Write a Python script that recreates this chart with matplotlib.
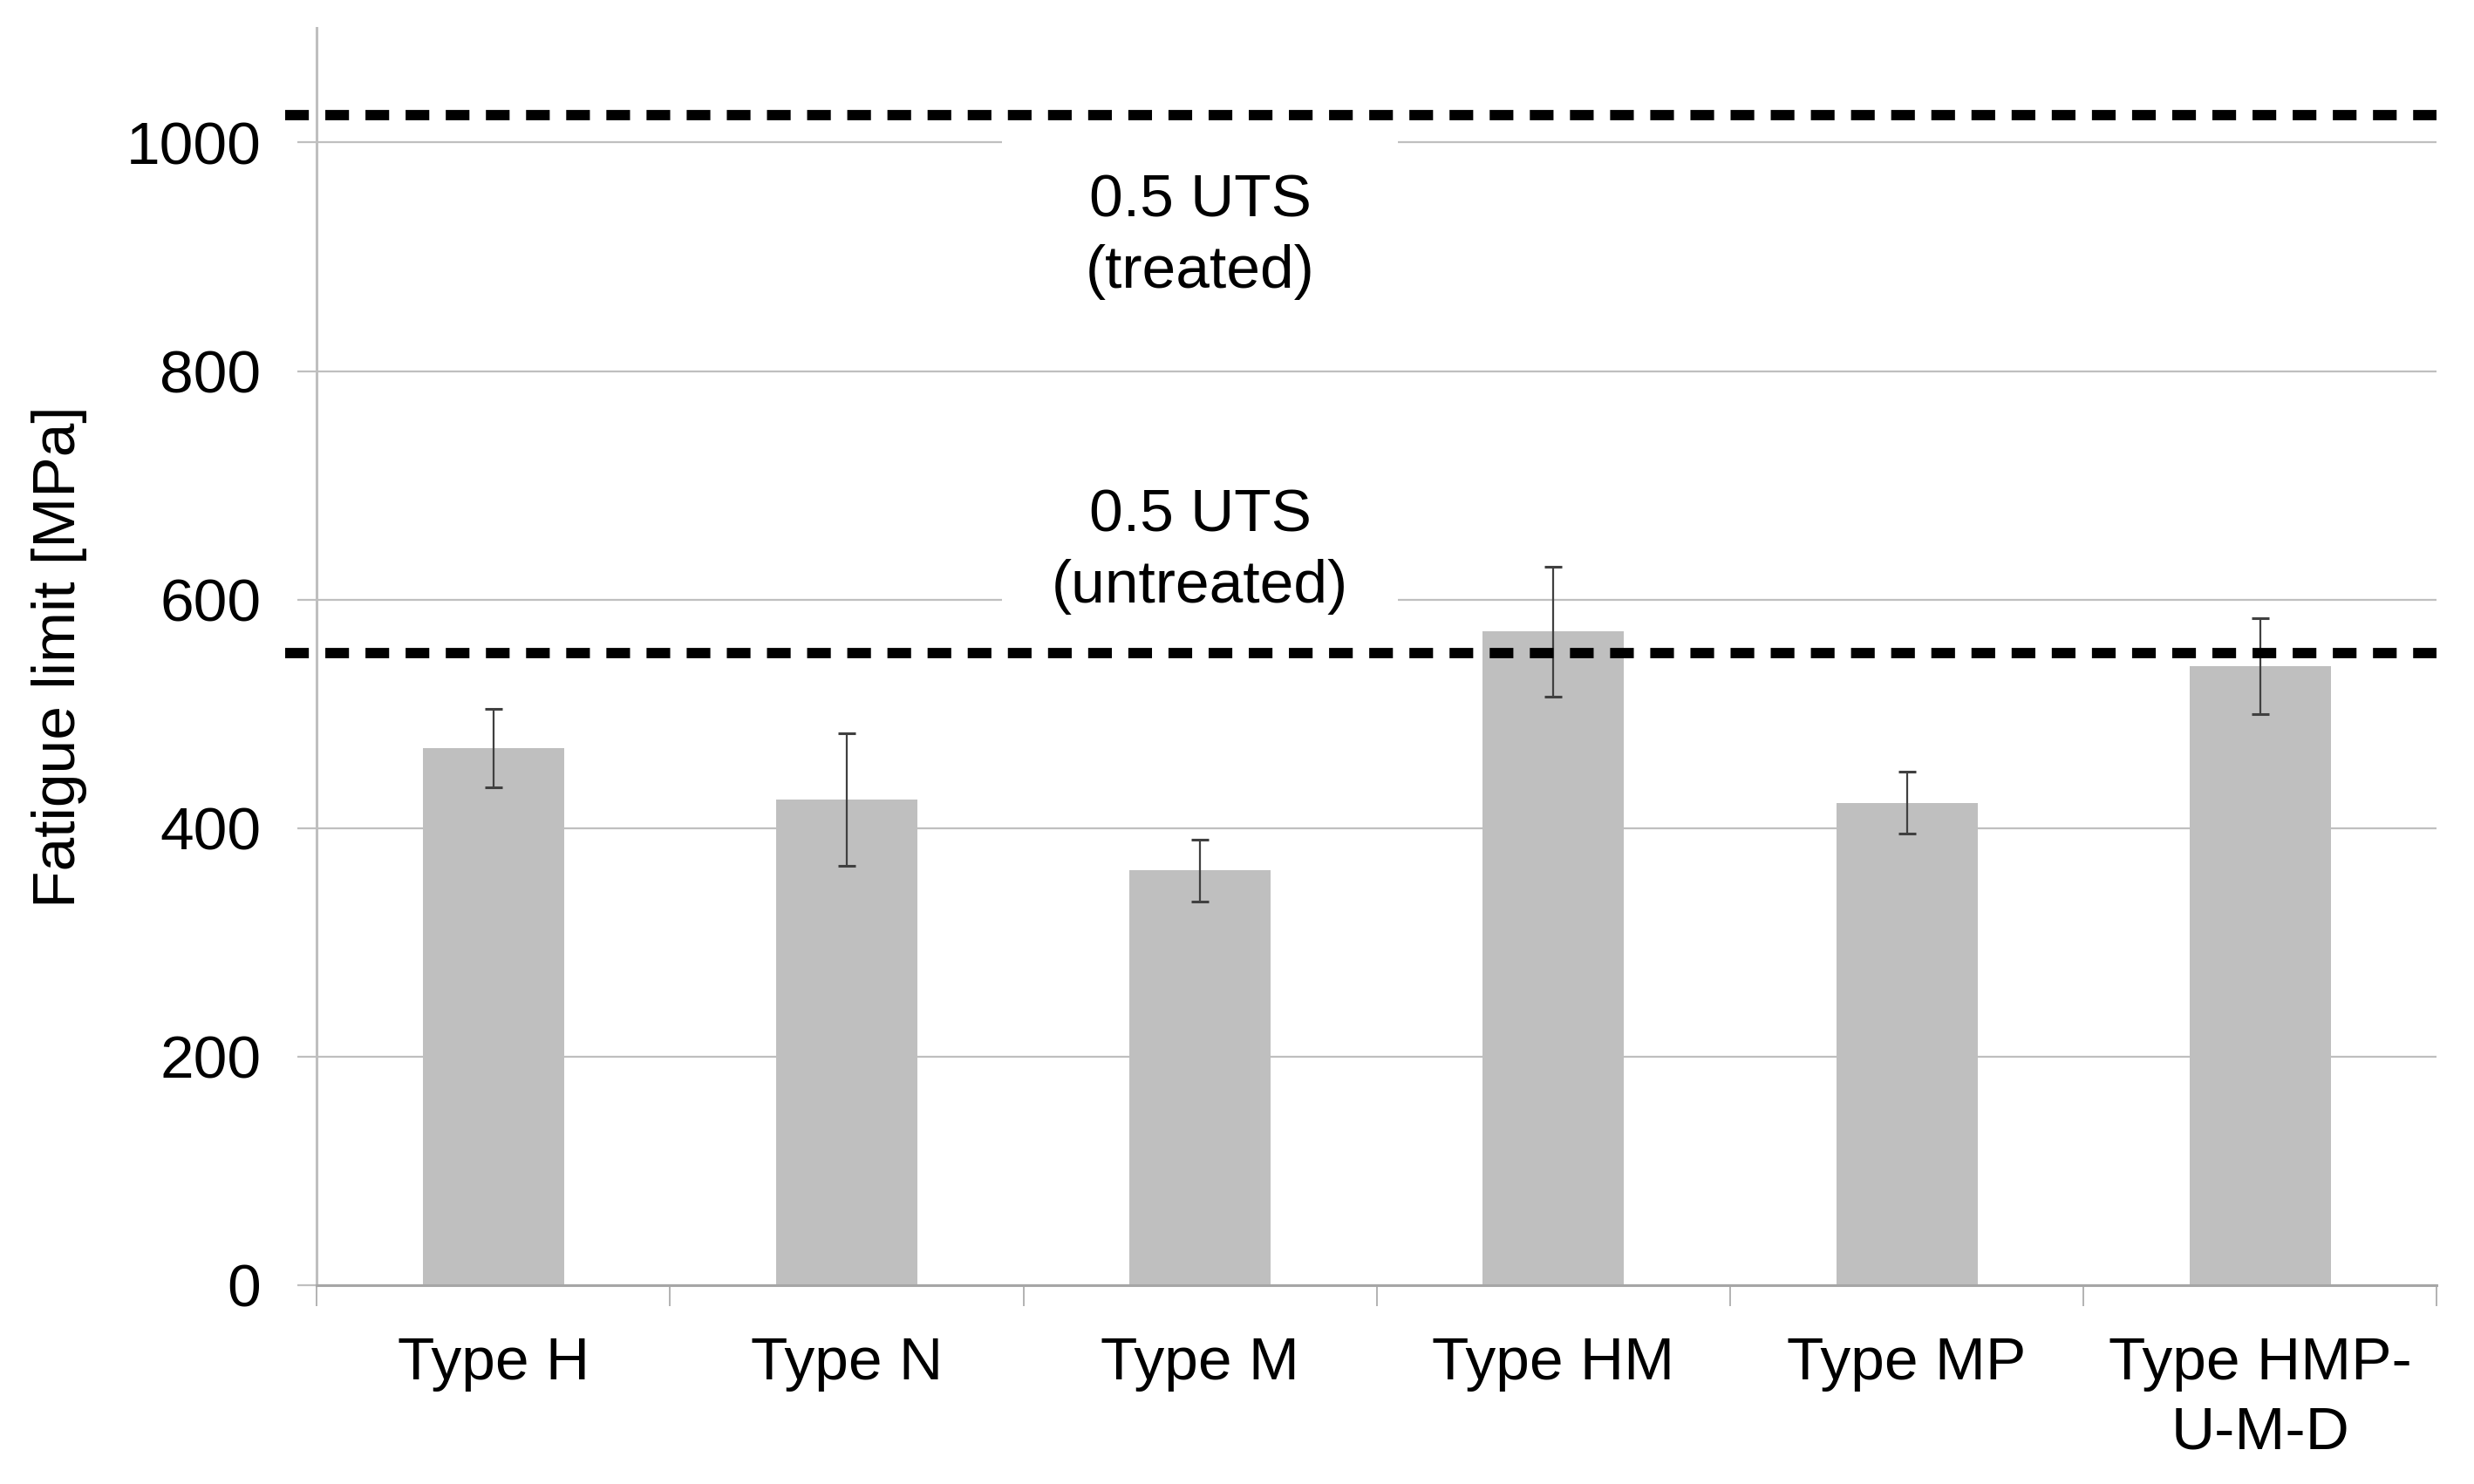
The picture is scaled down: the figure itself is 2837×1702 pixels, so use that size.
import numpy as np
import matplotlib.pyplot as plt
import matplotlib.transforms as mtransforms
from matplotlib.patches import Rectangle

plt.rcParams['font.family'] = ['Liberation Sans', 'DejaVu Sans']

# ---------------------------
# Data
# ---------------------------
categories = ['Type H', 'Type N', 'Type M', 'Type HM', 'Type MP', 'Type HMP-\nU-M-D']
fatigue_limit = [470, 425, 363, 572, 422, 542]
fatigue_err = [34, 58, 27, 57, 27, 42]
uts_treated_half = 1024
uts_untreated_half = 553

FS = 50
GRID_C = '#bfbfbf'

fig = plt.figure(figsize=(28.37, 17.02), dpi=100)
ax = fig.add_axes([0.128, 0.134, 0.857, 0.847])

x = np.arange(len(categories))
ax.bar(x, fatigue_limit, width=0.40, color='#bfbfbf', zorder=2)
ax.errorbar(x, fatigue_limit, yerr=fatigue_err, fmt='none', ecolor='#404040',
            elinewidth=1.6, capsize=7, capthick=2.2, zorder=3)

# white boxes behind the annotations (cut the gridlines)
ax.add_patch(Rectangle((1.44, 860), 1.12, 152, facecolor='white', edgecolor='none', zorder=1.5))
ax.add_patch(Rectangle((1.44, 585), 1.12, 140, facecolor='white', edgecolor='none', zorder=1.5))

# dashed 0.5 UTS lines, starting a bit left of the axis
trans = mtransforms.blended_transform_factory(ax.transAxes, ax.transData)
for yv in (uts_treated_half, uts_untreated_half):
    ax.plot([-0.015, 1.0], [yv, yv], transform=trans, color='black', lw=8.5,
            dashes=(2.3, 1.6), solid_capstyle='butt', dash_capstyle='butt',
            clip_on=False, zorder=4)

ax.text(2, 918, '0.5 UTS\n(treated)', ha='center', va='center', fontsize=FS,
        linespacing=1.35, zorder=5)
ax.text(2, 642, '0.5 UTS\n(untreated)', ha='center', va='center', fontsize=FS,
        linespacing=1.35, zorder=5)

ax.set_xlim(-0.5, 5.5)
ax.set_ylim(0, 1100)
ax.set_yticks([0, 200, 400, 600, 800, 1000])
ax.yaxis.grid(True, color=GRID_C, lw=1.6, zorder=0)
ax.set_axisbelow(True)

ax.set_xticks(x)
ax.set_xticklabels(categories, fontsize=FS, linespacing=1.3)
ax.set_xticks(np.arange(-0.5, 6.0, 1.0), minor=True)
ax.tick_params(axis='x', which='major', length=0, pad=42)
ax.tick_params(axis='x', which='minor', length=17, width=1.2, color='#a6a6a6')
ax.tick_params(axis='y', length=16, width=1.6, color=GRID_C, pad=30, labelsize=FS)

for s in ('top', 'right'):
    ax.spines[s].set_visible(False)
ax.spines['left'].set_color(GRID_C)
ax.spines['left'].set_linewidth(2.2)
ax.spines['bottom'].set_color('#a6a6a6')
ax.spines['bottom'].set_linewidth(2.2)

ax.set_ylabel('Fatigue limit [MPa]', fontsize=FS, labelpad=32)

fig.savefig('out.png', dpi=100)
